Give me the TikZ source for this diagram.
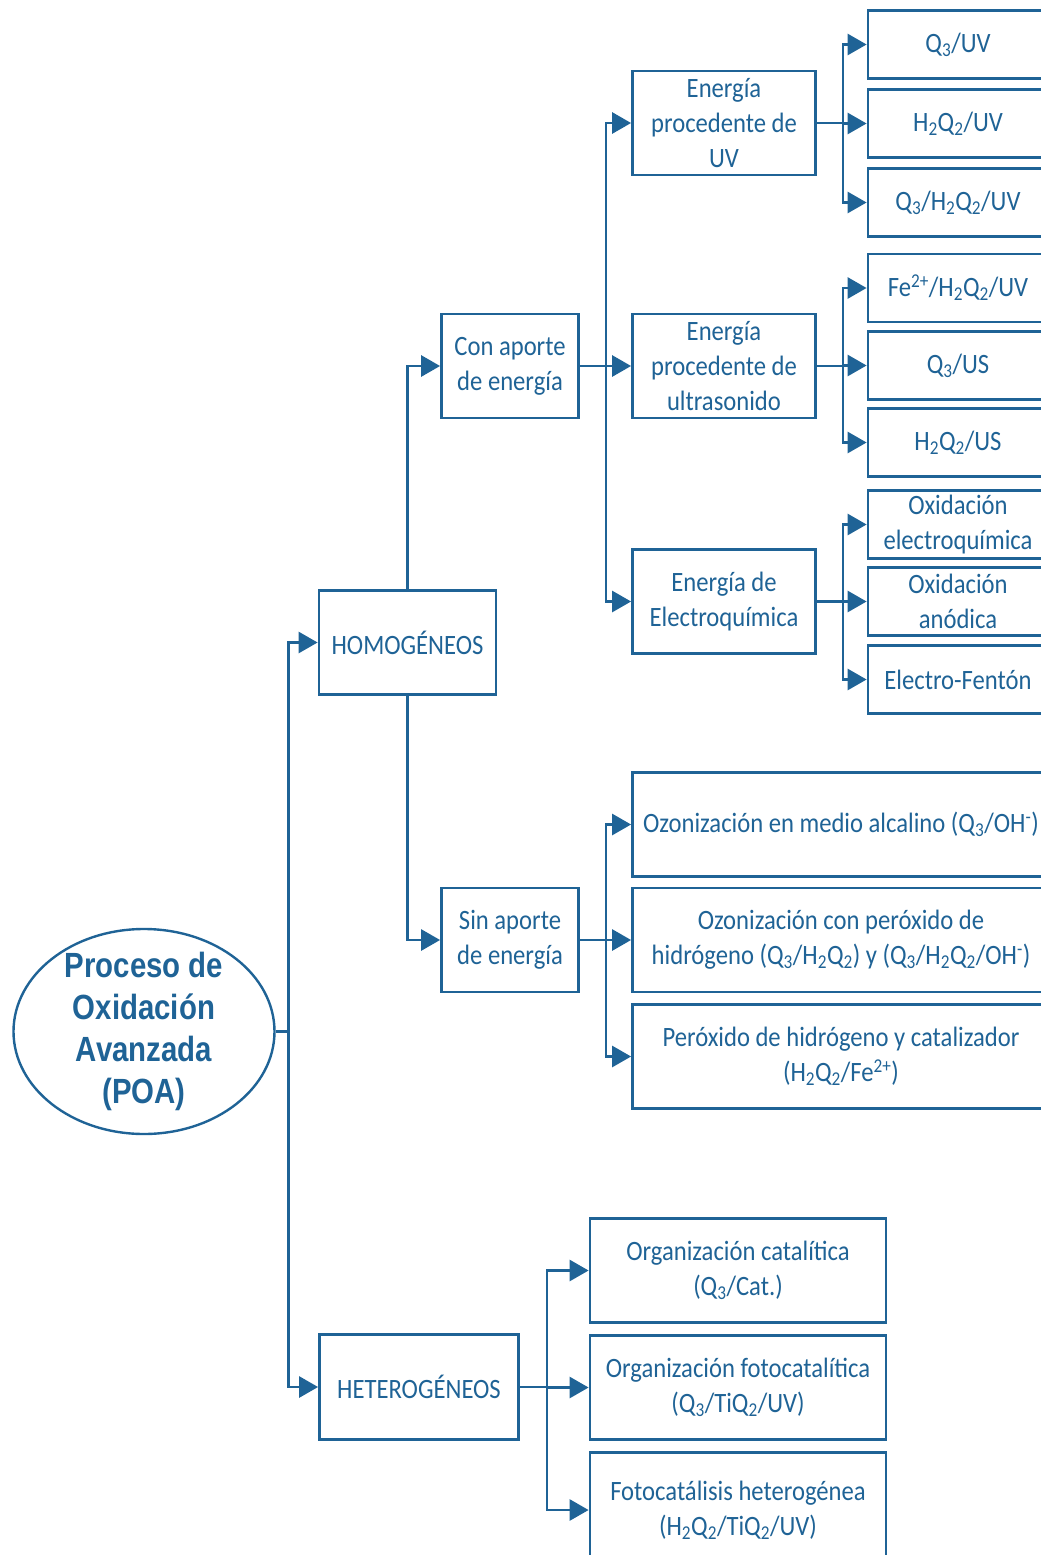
\documentclass[tikz,border=0pt]{standalone}
\usepackage{fontspec}
\setmainfont{Carlito}[FakeStretch=0.88]
\newfontfamily\titlefont{Liberation Sans}[FakeStretch=0.84]
\usetikzlibrary{arrows.meta,shapes.geometric}
\definecolor{poablue}{RGB}{31,99,150}
\newcommand{\lo}[1]{\textsubscript{#1}}
\newcommand{\hi}[1]{\textsuperscript{#1}}
\begin{document}
\begin{tikzpicture}[x=1pt,y=-1pt,
  box/.style={draw=poablue, line width=2.8pt, fill=white, text=poablue,
    align=center, inner sep=0pt, font=\fontsize{28}{35}\selectfont},
  leaf/.style={box, minimum width=180pt, minimum height=68pt},
  mid/.style={box, minimum width=183pt, minimum height=104pt},
  wide/.style={box, minimum width=417pt, minimum height=104pt},
  het/.style={box, minimum width=296pt, minimum height=104pt},
  arr/.style={draw=poablue, line width=2.8pt, -{Triangle[length=19pt,width=21pt]}}]
\useasboundingbox (0,0) rectangle (1041,1555);
\clip (0,0) rectangle (1041,1555);

% root: the ellipse, with its title set on top of it
\node[draw=poablue, line width=2.4pt, ellipse, minimum width=261pt, minimum height=205pt,
  inner sep=0pt] (poa) at (144,1031.5) {};
\node[align=center, text=poablue, inner sep=0pt,
  font=\titlefont\bfseries\fontsize{35}{42}\selectfont] (poatitle) at (poa.center)
  {Proceso de\\Oxidación\\Avanzada\\(POA)};

% first level
\node[box, minimum width=177pt, minimum height=104pt] (hom) at (407.5,642.5) {HOMOGÉNEOS};
\node[box, minimum width=199pt, minimum height=105pt] (het) at (419,1387) {HETEROGÉNEOS};

% second level
\node[box, minimum width=137pt, minimum height=104pt] (con) at (510,366) {Con aporte\\de energía};
\node[box, minimum width=137pt, minimum height=104pt] (sin) at (510,940) {Sin aporte\\de energía};

% energy sources
\node[mid] (uv) at (724,123) {Energía\\procedente de\\UV};
\node[mid] (us) at (724,366) {Energía\\procedente de\\ultrasonido};
\node[mid] (el) at (724,601.5) {Energía de\\Electroquímica};

% leaves
\node[leaf] (q3uv)   at (958,44.5)  {Q\lo{3}/UV};
\node[leaf] (h2uv)   at (958,123.5) {H\lo{2}Q\lo{2}/UV};
\node[leaf] (q3h2uv) at (958,202.5) {Q\lo{3}/H\lo{2}Q\lo{2}/UV};
\node[leaf] (fe)     at (958,288)   {Fe\hi{2+}/H\lo{2}Q\lo{2}/UV};
\node[leaf] (q3us)   at (958,365.5) {Q\lo{3}/US};
\node[leaf] (h2us)   at (958,442.5) {H\lo{2}Q\lo{2}/US};
\node[leaf] (oxe)    at (958,524.5) {Oxidación\\electroquímica};
\node[leaf] (oxa)    at (958,601.5) {Oxidación\\anódica};
\node[leaf] (ef)     at (958,679.5) {Electro-Fentón};

\node[wide] (oz1) at (841,824.5) {Ozonización en medio alcalino (Q\lo{3}/OH\hi{-})};
\node[wide] (oz2) at (841,940) {Ozonización con peróxido de\\hidrógeno (Q\lo{3}/H\lo{2}Q\lo{2}) y (Q\lo{3}/H\lo{2}Q\lo{2}/OH\hi{-})};
\node[wide] (px)  at (841,1056.5) {Peróxido de hidrógeno y catalizador\\(H\lo{2}Q\lo{2}/Fe\hi{2+})};

\node[het] (cat)  at (738,1270.5) {Organización catalítica\\(Q\lo{3}/Cat.)};
\node[het] (foto) at (738,1387.5) {Organización fotocatalítica\\(Q\lo{3}/TiQ\lo{2}/UV)};
\node[het, minimum height=115pt] (fhet) at (738,1510) {Fotocatálisis heterogénea\\(H\lo{2}Q\lo{2}/TiQ\lo{2}/UV)};

% connectors
\draw[arr] (poa.east) -- ++(13,0) |- (hom.west);
\draw[arr] (poa.east) -- ++(13,0) |- (het.west);

\draw[arr] (hom.north) |- (con.west);
\draw[arr] (hom.south) |- (sin.west);

\foreach \c in {uv,us,el} \draw[arr] (con.east) -- ++(26,0) |- (\c.west);
\foreach \c in {q3uv,h2uv,q3h2uv} \draw[arr] (uv.east) -- ++(26,0) |- (\c.west);
\foreach \c in {fe,q3us,h2us} \draw[arr] (us.east) -- ++(26,0) |- (\c.west);
\foreach \c in {oxe,oxa,ef} \draw[arr] (el.east) -- ++(26,0) |- (\c.west);
\foreach \c in {oz1,oz2,px} \draw[arr] (sin.east) -- ++(26,0) |- (\c.west);
\foreach \c in {cat,foto,fhet} \draw[arr] (het.east) -- ++(27,0) |- (\c.west);
\end{tikzpicture}
\end{document}
